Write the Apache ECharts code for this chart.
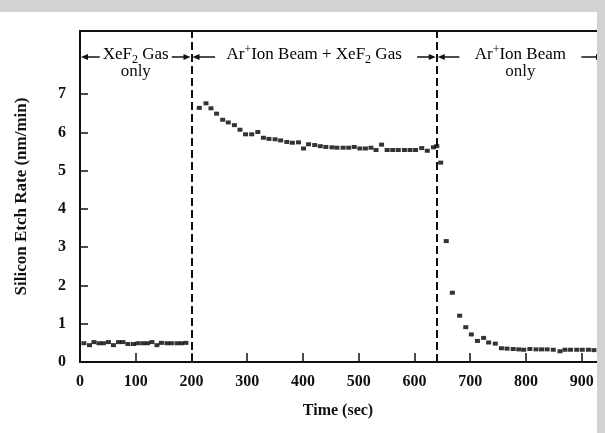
<!DOCTYPE html>
<html>
<head>
<meta charset="utf-8">
<script src="https://cdn.jsdelivr.net/npm/echarts@6/dist/echarts.min.js"></script>
<style>
  html, body { margin: 0; padding: 0; background: #ffffff; }
  #chart { width: 605px; height: 433px; }
</style>
</head>
<body>
<div id="chart"></div>
<script>
// Silicon etch rate (nm/min) against time (s) for the three process phases
const gasOnlyTime = [7, 17, 25, 34, 42, 51, 60, 69, 77, 86, 96, 104, 113, 121, 129, 138, 146, 156, 164, 174, 182, 190];
const gasOnlyRate = [0.49, 0.44, 0.52, 0.49, 0.49, 0.52, 0.44, 0.52, 0.52, 0.47, 0.47, 0.49, 0.49, 0.49, 0.52, 0.44, 0.50, 0.49, 0.49, 0.49, 0.49, 0.50];

const ionGasTime = [214, 226, 235, 245, 256, 266, 277, 287, 297, 308, 319, 329, 339, 350, 360, 371, 381, 392, 401, 410, 421, 431, 441, 452, 461, 472, 482, 492, 502, 512, 522, 531, 541, 551, 561, 571, 582, 592, 602, 613, 623, 634, 640];
const ionGasRate = [6.64, 6.76, 6.63, 6.49, 6.33, 6.26, 6.19, 6.07, 5.95, 5.95, 6.01, 5.86, 5.83, 5.82, 5.79, 5.75, 5.73, 5.74, 5.58, 5.69, 5.67, 5.64, 5.62, 5.61, 5.60, 5.60, 5.60, 5.62, 5.58, 5.58, 5.60, 5.54, 5.68, 5.54, 5.54, 5.54, 5.54, 5.54, 5.54, 5.59, 5.52, 5.61, 5.64];

const ionOnlyTime = [647, 657, 668, 681, 692, 702, 713, 724, 733, 745, 756, 766, 777, 787, 796, 807, 818, 828, 838, 849, 861, 870, 880, 891, 901, 912, 922];
const ionOnlyRate = [5.21, 3.16, 1.81, 1.21, 0.91, 0.72, 0.55, 0.63, 0.51, 0.48, 0.36, 0.35, 0.34, 0.33, 0.32, 0.34, 0.33, 0.33, 0.33, 0.32, 0.28, 0.32, 0.32, 0.32, 0.32, 0.32, 0.31];

// Phase switch-over times and axis ticks
const phaseBounds = [0, 200, 640, 940];
const xTicks = [0, 100, 200, 300, 400, 500, 600, 700, 800, 900];
const yLabels = [0, 1, 2, 3, 4, 5, 6, 7];
const yTicks = [1, 2, 3, 4, 5, 6, 7];

const serif = '"Liberation Serif", "Times New Roman", Times, serif';
const ink = '#111111';

const pair = (ts, vs) => ts.map((t, i) => [t, vs[i]]);

const chart = echarts.init(document.getElementById('chart'), null, { renderer: 'canvas' });

const baseSeries = {
  type: 'scatter',
  symbol: 'rect',
  symbolSize: [5, 4],
  itemStyle: { color: '#000000' },
  silent: true,
  animation: false
};

chart.setOption({
  animation: false,
  backgroundColor: '#ffffff',
  grid: { left: 80, top: 31, width: 524, height: 331, containLabel: false },
  xAxis: [
    {
      type: 'value',
      min: phaseBounds[0],
      max: phaseBounds[3],
      name: 'Time (sec)',
      nameLocation: 'middle',
      nameGap: 41,
      nameTextStyle: { fontFamily: serif, fontSize: 16, fontWeight: 'bold', color: ink, padding: [0, 8, 0, 0] },
      axisLine: { show: true, lineStyle: { color: ink, width: 2 } },
      axisTick: { show: true, inside: true, length: 9, customValues: xTicks, lineStyle: { color: ink, width: 1.5 } },
      axisLabel: { show: true, customValues: xTicks, margin: 12, fontFamily: serif, fontSize: 16, fontWeight: 'bold', color: ink },
      splitLine: { show: false }
    },
    {
      type: 'value',
      position: 'top',
      min: phaseBounds[0],
      max: phaseBounds[3],
      axisLine: { show: true, lineStyle: { color: ink, width: 2 } },
      axisTick: { show: false },
      axisLabel: { show: false },
      splitLine: { show: false }
    }
  ],
  yAxis: {
    type: 'value',
    min: 0,
    max: 8.65,
    name: 'Silicon Etch Rate (nm/min)',
    nameLocation: 'middle',
    nameGap: 50,
    nameRotate: 90,
    nameTextStyle: { fontFamily: serif, fontSize: 17, fontWeight: 'bold', color: ink },
    axisLine: { show: true, lineStyle: { color: ink, width: 2 } },
    axisTick: { show: true, inside: true, length: 8, customValues: yTicks, lineStyle: { color: ink, width: 1.5 } },
    axisLabel: { show: true, customValues: yLabels, margin: 14, fontFamily: serif, fontSize: 16, fontWeight: 'bold', color: ink },
    splitLine: { show: false }
  },
  series: [
    Object.assign({}, baseSeries, {
      name: 'XeF2 gas only',
      data: pair(gasOnlyTime, gasOnlyRate),
      markLine: {
        silent: true,
        symbol: 'none',
        animation: false,
        label: { show: false },
        lineStyle: { type: [8, 4], color: ink, width: 2 },
        data: [{ xAxis: phaseBounds[1] }, { xAxis: phaseBounds[2] }]
      }
    }),
    Object.assign({}, baseSeries, { name: 'Ar+ ion beam + XeF2 gas', data: pair(ionGasTime, ionGasRate) }),
    Object.assign({}, baseSeries, { name: 'Ar+ ion beam only', data: pair(ionOnlyTime, ionOnlyRate) })
  ]
});

// Phase annotations along the top: "<-- label -->" spanning each phase
const rich = {
  b: { fontFamily: serif, fontSize: 17, lineHeight: 22, color: ink },
  sup: { fontFamily: serif, fontSize: 12, lineHeight: 12, verticalAlign: 'top', color: ink },
  sub: { fontFamily: serif, fontSize: 12, lineHeight: 12, verticalAlign: 'bottom', color: ink }
};
const phaseLabels = [
  { text: '{b|XeF}{sub|2}{b| Gas}', second: 'only', inner: [36, 36] },
  { text: '{b|Ar}{sup|+}{b|Ion Beam + XeF}{sub|2}{b| Gas}', second: null, inner: [99, 103] },
  { text: '{b|Ar}{sup|+}{b|Ion Beam}', second: 'only', inner: [61, 61] }
];

const rowY = 55;
const arrowY = 57;
const onlyY = 72;
const graphics = [];

function arrow(x0, x1, y) {
  // shaft from x0 to x1 with the head at x1
  const dir = x1 > x0 ? 1 : -1;
  graphics.push({
    type: 'line', silent: true, z: 50,
    shape: { x1: x0, y1: y, x2: x1 - dir * 5, y2: y },
    style: { stroke: ink, lineWidth: 1.5 }
  });
  graphics.push({
    type: 'polygon', silent: true, z: 50,
    shape: { points: [[x1, y], [x1 - dir * 7, y - 3], [x1 - dir * 7, y + 3]] },
    style: { fill: ink }
  });
}

phaseLabels.forEach((p, i) => {
  const left = chart.convertToPixel({ gridIndex: 0 }, [phaseBounds[i], 0])[0];
  const right = chart.convertToPixel({ gridIndex: 0 }, [phaseBounds[i + 1], 0])[0];
  const cx = (left + right) / 2;
  graphics.push({
    type: 'text', silent: true, z: 50,
    style: { text: p.text, rich: rich, x: cx, y: rowY, align: 'center', verticalAlign: 'middle' }
  });
  if (p.second) {
    graphics.push({
      type: 'text', silent: true, z: 50,
      style: { text: p.second, x: cx, y: onlyY, align: 'center', verticalAlign: 'middle', font: '17px ' + serif, fill: ink }
    });
  }
  arrow(cx - p.inner[0], left + 1, arrowY);
  arrow(cx + p.inner[1], right - 1, arrowY);
});

// Page margin of the printed sheet along the top and right edges
graphics.push({ type: 'rect', silent: true, z: 100, shape: { x: 0, y: 0, width: 605, height: 12 }, style: { fill: '#d2d2d2' } });
graphics.push({ type: 'rect', silent: true, z: 100, shape: { x: 597, y: 0, width: 8, height: 433 }, style: { fill: '#d2d2d2' } });

chart.setOption({ graphic: graphics });
</script>
</body>
</html>
